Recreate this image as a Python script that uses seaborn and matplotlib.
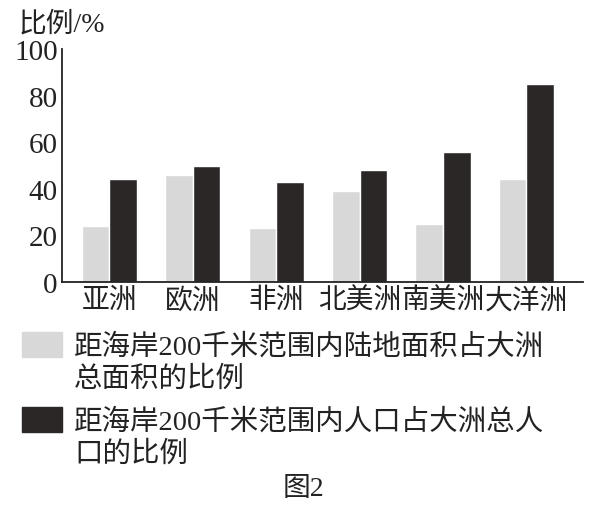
import pandas as pd
import matplotlib
matplotlib.use("Agg")
import matplotlib.pyplot as plt
from matplotlib.patches import Rectangle
import seaborn as sns

# Data
continents = ["亚洲", "欧洲", "非洲", "北美洲", "南美洲", "大洋洲"]
land_share = [24, 46, 23, 39, 25, 44]
pop_share = [44, 50, 43, 48, 56, 85]
series_names = [
    "距海岸200千米范围内陆地面积占大洲\n总面积的比例",
    "距海岸200千米范围内人口占大洲总人\n口的比例",
]
y_ticks = [0, 20, 40, 60, 80, 100]

light = "#d8d8d8"
dark = "#2b2727"

df = pd.DataFrame({
    "continent": continents * 2,
    "value": land_share + pop_share,
    "series": [series_names[0]] * len(continents) + [series_names[1]] * len(continents),
})

sns.set_style("white")
plt.rcParams["font.family"] = ["Liberation Serif", "Noto Sans CJK SC"]

fig = plt.figure(figsize=(5.95, 5.10), dpi=100)
ax = fig.add_axes([0.104, 0.445, 0.876, 0.457])

sns.barplot(
    data=df, x="continent", y="value", hue="series",
    palette=[light, dark], width=0.66, gap=0,
    saturation=1, legend=False, ax=ax,
)

ax.set_xlim(-0.57, 5.68)
ax.set_ylim(0, 100)
ax.set_yticks(y_ticks)
ax.set_yticklabels([str(t) for t in y_ticks], fontsize=21)
ax.tick_params(axis="y", direction="in", length=6, width=1.2, pad=3, colors="#222222")
ax.tick_params(axis="x", length=0, pad=4, labelsize=20, colors="#222222")
ax.set_xlabel("")
ax.set_ylabel("")
for side in ["top", "right"]:
    ax.spines[side].set_visible(False)
for side in ["left", "bottom"]:
    ax.spines[side].set_color("#222222")
    ax.spines[side].set_linewidth(1.3)

fig.text(0.032, 0.951, "比例/%", fontsize=20, ha="left", va="center", color="#222222")

# Legend
fig.patches.append(Rectangle((22 / 595, 1 - 358 / 510), 40 / 595, 25 / 510,
                             transform=fig.transFigure, color=light, figure=fig))
fig.patches.append(Rectangle((22 / 595, 1 - 433 / 510), 40 / 595, 25 / 510,
                             transform=fig.transFigure, color=dark, figure=fig))
fig.text(74 / 595, 1 - 363 / 510, series_names[0], fontsize=20.5, ha="left", va="center",
         linespacing=1.27, color="#222222")
fig.text(74 / 595, 1 - 438 / 510, series_names[1], fontsize=20.5, ha="left", va="center",
         linespacing=1.27, color="#222222")

fig.text(0.51, 1 - 490 / 510, "图2", fontsize=20, ha="center", va="center", color="#222222")

fig.savefig("out.png", dpi=100)
